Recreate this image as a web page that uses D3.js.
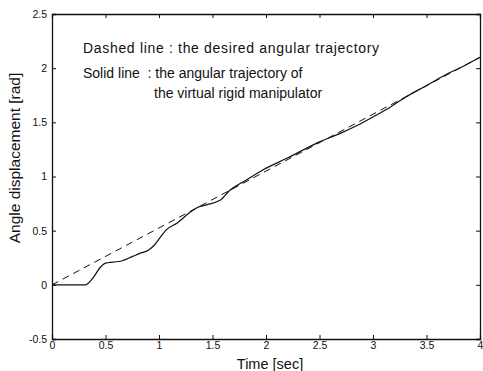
<!DOCTYPE html>
<html>
<head>
<meta charset="utf-8">
<script src="https://cdn.jsdelivr.net/npm/d3@7"></script>
<style>
  body { margin: 0; background: #fff; }
  text { font-family: "Liberation Sans", Arial, sans-serif; fill: #111; }
</style>
</head>
<body>
<div id="chart"></div>
<script>
// desired trajectory (dashed)
const desiredTime = [0, 1, 2, 3, 4];
const desiredAngle = [0, 0.525, 1.05, 1.575, 2.1];

// virtual rigid manipulator trajectory (solid)
const actualTime = [0, 0.1, 0.2, 0.31, 0.38, 0.45, 0.5, 0.57, 0.65, 0.75, 0.82, 0.9, 0.96, 1.02, 1.07,
  1.17, 1.29, 1.35, 1.45, 1.57, 1.66, 1.75, 1.82, 1.97, 2.2, 2.5, 2.7, 2.85, 3.0, 3.16, 3.3, 3.5, 3.7, 3.85, 4.0];
const actualAngle = [0, 0, 0, 0, 0.06, 0.16, 0.2, 0.21, 0.22, 0.26, 0.29, 0.32, 0.37, 0.45, 0.51,
  0.57, 0.67, 0.71, 0.74, 0.78, 0.87, 0.93, 0.97, 1.06, 1.17, 1.32, 1.4, 1.47, 1.55, 1.64, 1.73, 1.84, 1.95, 2.02, 2.1];

const xTicks = [0, 0.5, 1, 1.5, 2, 2.5, 3, 3.5, 4];
const yTicks = [-0.5, 0, 0.5, 1, 1.5, 2, 2.5];

const notes = [
  "Dashed line : the desired angular trajectory",
  "Solid line  : the angular trajectory of",
  "the virtual rigid manipulator"
];

const width = 483;
const height = 371;
const marginTop = 14;
const marginRight = 3;
const marginBottom = 32;
const marginLeft = 52;

const svg = d3.select("#chart")
  .append("svg")
  .attr("width", width)
  .attr("height", height)
  .attr("viewBox", [0, 0, width, height]);

const x = d3.scaleLinear()
  .domain([0, 4])
  .range([marginLeft, width - marginRight]);

const y = d3.scaleLinear()
  .domain([-0.5, 2.5])
  .range([height - marginBottom, marginTop]);

// Axes, ticks pointing inward like the matlab box
svg.append("g")
  .attr("transform", `translate(0,${height - marginBottom})`)
  .call(d3.axisBottom(x).tickValues(xTicks).tickSize(-4).tickPadding(3).tickFormat(d => d))
  .call(g => g.selectAll("text").attr("font-size", 10.5).attr("font-family", "Liberation Sans, Arial, sans-serif"));

svg.append("g")
  .attr("transform", `translate(0,${marginTop})`)
  .call(d3.axisTop(x).tickValues(xTicks).tickSize(-4).tickFormat(""));

svg.append("g")
  .attr("transform", `translate(${marginLeft},0)`)
  .call(d3.axisLeft(y).tickValues(yTicks).tickSize(-4).tickPadding(5).tickFormat(d => d))
  .call(g => g.selectAll("text").attr("font-size", 10.5).attr("font-family", "Liberation Sans, Arial, sans-serif"));

svg.append("g")
  .attr("transform", `translate(${width - marginRight},0)`)
  .call(d3.axisRight(y).tickValues(yTicks).tickSize(-4).tickFormat(""));

svg.selectAll(".domain").attr("stroke", "#111").attr("stroke-width", 1.3);
svg.selectAll(".tick line").attr("stroke", "#111");

// Lines
const line = d3.line()
  .x(d => x(d[0]))
  .y(d => y(d[1]))
  .curve(d3.curveMonotoneX);

svg.append("path")
  .datum(d3.zip(desiredTime, desiredAngle))
  .attr("fill", "none")
  .attr("stroke", "#111")
  .attr("stroke-width", 1)
  .attr("stroke-dasharray", "7,5")
  .attr("d", line);

svg.append("path")
  .datum(d3.zip(actualTime, actualAngle))
  .attr("fill", "none")
  .attr("stroke", "#111")
  .attr("stroke-width", 1.2)
  .attr("d", line);

// Annotation text (first line is set a little wider in the original)
const noteX = [83, 83, 154];
const noteY = [53, 78, 98];
const notes_g = svg.append("g");
notes_g.selectAll("text")
  .data(notes)
  .join("text")
    .attr("x", (d, i) => noteX[i])
    .attr("y", (d, i) => noteY[i])
    .attr("font-size", 14)
    .style("white-space", "pre")
    .text(d => d);
notes_g.select("text")
  .attr("textLength", 296)
  .attr("lengthAdjust", "spacing");

// Axis labels
svg.append("text")
  .attr("text-anchor", "middle")
  .attr("x", 270)
  .attr("y", 369)
  .attr("font-size", 14.5)
  .text("Time [sec]");

svg.append("text")
  .attr("text-anchor", "middle")
  .attr("transform", `translate(20,158) rotate(-90)`)
  .attr("font-size", 15.5)
  .text("Angle displacement [rad]");
</script>
</body>
</html>
